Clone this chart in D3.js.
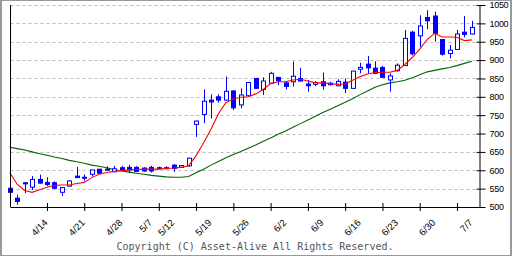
<!DOCTYPE html>
<html>
<head>
<meta charset="utf-8">
<script src="https://cdn.jsdelivr.net/npm/d3@7"></script>
<style>
  body { margin: 0; background: #fff; }
  svg { display: block; }
</style>
</head>
<body>
<div id="chart"></div>
<script>
// trading days (2008), one per candle
let dates = ["4/7","4/8","4/9","4/10","4/11","4/14","4/15","4/16","4/17","4/18",
  "4/21","4/22","4/23","4/24","4/25","4/28","4/30","5/1","5/2","5/7","5/8","5/9",
  "5/12","5/13","5/14","5/15","5/16","5/19","5/20","5/21","5/22","5/23",
  "5/26","5/27","5/28","5/29","5/30","6/2","6/3","6/4","6/5","6/6",
  "6/9","6/10","6/11","6/12","6/13","6/16","6/17","6/18","6/19","6/20",
  "6/23","6/24","6/25","6/26","6/27","6/30","7/1","7/2","7/3","7/4","7/7"];

let open  = [551,524,566,554,575,567,566,540,557,584,581,589,603,603,596,607,608,608,606,608,607,607,
  614,608,612,725,752,791,800,791,816,778,803,850,820,837,853,838,841,850,835,834,
  841,837,830,840,823,875,889,878,880,846,871,885,976,966,1016,1020,956,918,929,976,971];
let high  = [553,533,567,584,588,581,570,553,573,609,589,601,603,611,612,612,615,611,608,612,610,611,
  617,614,634,735,820,807,807,855,817,823,840,851,853,868,854,841,896,879,846,843,
  866,841,848,850,870,893,911,897,884,864,891,982,980,1022,1036,1032,957,941,982,1020,1007];
let low   = [538,506,538,546,564,557,549,530,555,580,571,583,591,601,595,599,593,596,596,594,603,603,
  596,607,610,691,728,741,784,790,764,769,800,822,805,836,832,820,828,842,814,829,
  819,831,829,810,822,864,864,862,852,814,869,884,913,936,984,950,912,905,928,962,970];
let close = [540,515,563,575,565,561,551,553,571,580,580,601,592,602,604,600,601,597,598,598,606,606,
  605,613,633,734,788,786,791,815,770,805,839,823,843,864,844,828,856,843,830,839,
  830,833,842,823,870,880,879,864,853,857,886,959,917,993,1007,973,916,927,971,970,989];

// moving averages
let maShort = [594,562,545,540,547,554,559,560,560,564,567,580,589,594,597,599,601,602,603,603,603,605,
  606,608,612,640,674,712,754,784,794,799,800,808,820,836,841,841,846,848,843,838,
  838,836,834,835,845,855,862,866,867,867,872,888,907,930,956,973,963,963,962,953,955];
let maLong = [663,659,655,650,645,641,636,632,627,623,619,614,611,607,602,598,595,592,589,586,584,582,
  581,581,583,593,603,614,624,634,643,651,660,669,679,688,698,707,717,727,737,747,
  757,766,776,785,795,806,816,826,833,838,841,845,852,860,868,872,876,880,885,891,897];

let yTicks = [500,550,600,650,700,750,800,850,900,950,1000,1050];
let xLabels = ["4/14","4/21","4/28","5/7","5/12","5/19","5/26","6/2","6/9","6/16","6/23","6/30","7/7"];
let copyright = "Copyright (C) Asset-Alive All Rights Reserved.";

let W = 512, H = 256,
    plotLeft = 10.5, plotRight = 479.5, plotTop = 5, plotBottom = 207;

let svg = d3.select("#chart").append("svg")
    .attr("width", W)
    .attr("height", H);

let x = d3.scalePoint()
    .domain(dates)
    .range([9.7, 471.9]);

let y = d3.scaleLinear()
    .domain([500, 1050])
    .range([plotBottom, plotTop]);

// grid
svg.append("g")
    .selectAll("line")
    .data(yTicks.filter(d => d > 500))
    .join("line")
    .attr("x1", plotLeft)
    .attr("x2", plotRight)
    .attr("y1", d => Math.round(y(d)) + 0.5)
    .attr("y2", d => Math.round(y(d)) + 0.5)
    .attr("stroke", "#bcbcbc")
    .attr("stroke-dasharray", "3 3");

// long MA
let line = d3.line()
    .x((d, i) => x(dates[i]))
    .y(d => y(d));

svg.append("path")
    .datum(maLong)
    .attr("d", line)
    .attr("fill", "none")
    .attr("stroke", "#006400")
    .attr("stroke-width", 1.1);

// candles
let candles = svg.append("g")
    .selectAll("g")
    .data(dates.map((d, i) => ({date: d, o: open[i], h: high[i], l: low[i], c: close[i]})))
    .join("g");

candles.append("line")
    .attr("x1", d => Math.round(x(d.date)) + 0.5)
    .attr("x2", d => Math.round(x(d.date)) + 0.5)
    .attr("y1", d => y(d.h))
    .attr("y2", d => y(d.l))
    .attr("stroke", "#0000ff");

candles.append("rect")
    .attr("x", d => Math.round(x(d.date)) - 1.5)
    .attr("width", 4)
    .attr("y", d => y(Math.max(d.o, d.c)))
    .attr("height", d => Math.max(1, Math.abs(y(d.o) - y(d.c))))
    .attr("fill", d => d.c >= d.o ? "#ffffff" : "#0000ff")
    .attr("stroke", "#0000ff");

// short MA
svg.append("path")
    .datum(maShort)
    .attr("d", line)
    .attr("fill", "none")
    .attr("stroke", "#ff0000")
    .attr("stroke-width", 1.1);

// left axis line
svg.append("line")
    .attr("x1", plotLeft).attr("x2", plotLeft)
    .attr("y1", plotTop).attr("y2", plotBottom)
    .attr("stroke", "#000");

// bottom axis, a tick every 5 bars
let xAxis = d3.axisBottom(x)
    .tickValues(dates.filter((d, i) => i > 0 && i % 5 == 0))
    .tickSize(4)
    .tickFormat("");

svg.append("g")
    .attr("transform", `translate(0,${plotBottom})`)
    .call(xAxis)
    .call(g => g.select(".domain").remove())
    .call(g => g.selectAll(".tick line").attr("y1", -4).attr("stroke", "#000"));

svg.append("line")
    .attr("x1", plotLeft).attr("x2", plotRight)
    .attr("y1", plotBottom + 0.5).attr("y2", plotBottom + 0.5)
    .attr("stroke", "#000");

// date labels, rotated, ending at their bar
svg.append("g")
    .selectAll("text")
    .data(xLabels)
    .join("text")
    .attr("transform", d => `translate(${x(d) - 1},${plotBottom + 14}) rotate(-45)`)
    .attr("text-anchor", "end")
    .attr("dy", "0.35em")
    .attr("font-family", "Liberation Sans, Arial, sans-serif")
    .attr("font-size", "9.5px")
    .attr("fill", "#000")
    .text(d => d);

// right axis
let yAxis = d3.axisRight(y)
    .tickValues(yTicks)
    .tickSize(6)
    .tickPadding(4)
    .tickFormat(d => d);

svg.append("g")
    .attr("transform", `translate(${plotRight},0)`)
    .call(yAxis)
    .call(g => g.select(".domain").attr("d", `M0.5,${plotTop}V${plotBottom + 0.5}`).attr("stroke", "#000"))
    .call(g => g.selectAll(".tick line").attr("x1", -3).attr("stroke", "#000"))
    .call(g => g.selectAll(".tick text")
        .attr("font-family", "Liberation Sans, Arial, sans-serif")
        .attr("font-size", "9px")
        .attr("letter-spacing", "-0.3px")
        .attr("fill", "#000"));

// copyright
svg.append("text")
    .attr("x", 255)
    .attr("y", 250)
    .attr("text-anchor", "middle")
    .attr("font-family", "DejaVu Sans Mono, monospace")
    .attr("font-size", "10px")
    .attr("fill", "#555")
    .text(copyright);

// frame
svg.append("rect")
    .attr("x", 0.5).attr("y", 0.5)
    .attr("width", W - 1).attr("height", H - 1)
    .attr("fill", "none")
    .attr("stroke", "#999");
svg.append("line")
    .attr("x1", 1.5).attr("x2", 1.5).attr("y1", 0).attr("y2", H)
    .attr("stroke", "#999");
svg.append("line")
    .attr("x1", W - 1.5).attr("x2", W - 1.5).attr("y1", 0).attr("y2", H)
    .attr("stroke", "#999");
</script>
</body>
</html>
